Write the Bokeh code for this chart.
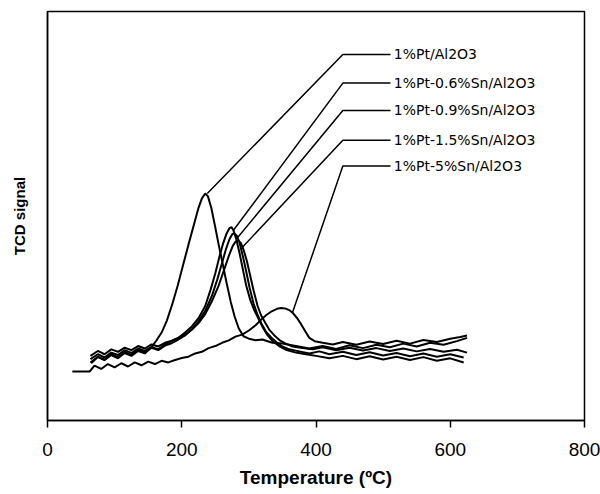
from bokeh.plotting import figure
from bokeh.models import Range1d, FixedTicker, ColumnDataSource
from bokeh.embed import file_html
from bokeh.resources import INLINE
from bokeh.core.properties import value

# ---------------- data ----------------
x_ticks = [0, 200, 400, 600, 800]

series_names = ["1%Pt/Al2O3", "1%Pt-0.6%Sn/Al2O3", "1%Pt-0.9%Sn/Al2O3",
                "1%Pt-1.5%Sn/Al2O3", "1%Pt-5%Sn/Al2O3"]

# 1%Pt/Al2O3
t_a = [65, 75, 85, 95, 105, 115, 125, 135, 145, 155, 162, 170, 178, 186, 194, 202,
       210, 218, 225, 230, 235, 239, 244, 249, 255, 261, 267, 273, 279, 285, 292, 300,
       310, 320, 335, 350, 370, 390, 410, 430, 450, 470, 490, 510, 530, 550, 570, 590,
       610, 625]
s_a = [14.0, 15.5, 14.8, 16.0, 15.2, 16.5, 15.8, 17.0, 16.4, 18.0, 19.5, 21.5, 24.5, 28.5,
       33.0, 38.0, 43.0, 47.8, 52.0, 54.3, 55.5, 54.8, 52.0, 48.0, 43.0, 38.3, 33.5, 29.0,
       25.3, 22.5, 20.6, 20.0, 19.6, 19.8, 19.0, 18.8, 18.2, 17.6, 18.2, 17.5, 18.4, 17.7,
       18.5, 17.9, 18.8, 18.1, 19.0, 18.5, 19.4, 20.2]

# 1%Pt-0.6%Sn/Al2O3
t_b = [64, 75, 85, 95, 105, 115, 125, 135, 145, 155, 165, 175, 185, 195, 205, 215, 225,
       235, 243, 250, 256, 262, 267, 271, 274, 277, 281, 286, 291, 296, 302, 308, 314,
       320, 328, 336, 345, 355, 370, 385, 400, 420, 440, 460, 480, 500, 520, 540, 560,
       580, 600, 620]
s_b = [15.0, 16.2, 15.4, 16.6, 16.0, 17.2, 16.5, 17.6, 17.0, 18.0, 17.4, 18.6, 19.4, 20.2,
       21.5, 23.0, 25.0, 28.0, 32.0, 36.0, 40.0, 43.5, 45.8, 47.0, 47.3, 46.5, 44.5, 41.0,
       37.0, 33.0, 29.5, 27.0, 25.0, 23.0, 20.8, 19.3, 18.2, 17.3, 16.6, 16.2, 15.8, 15.2,
       15.8, 15.0, 15.7, 14.9, 15.6, 14.8, 15.5, 14.6, 15.2, 14.2]

# 1%Pt-0.9%Sn/Al2O3
t_c = [64, 75, 85, 95, 105, 115, 125, 135, 145, 155, 165, 175, 185, 195, 205, 215, 225,
       235, 245, 253, 260, 266, 271, 275, 278, 282, 286, 291, 296, 301, 307, 313, 319,
       326, 334, 342, 350, 360, 375, 390, 405, 420, 440, 460, 480, 500, 520, 540, 560,
       580, 600, 620]
s_c = [14.2, 15.6, 14.8, 16.2, 15.5, 16.8, 16.0, 17.3, 16.6, 17.8, 17.2, 18.3, 18.9, 19.8,
       20.8, 22.3, 24.2, 26.8, 30.5, 34.5, 38.5, 42.0, 44.3, 45.5, 45.8, 45.2, 43.5, 40.2,
       36.5, 32.5, 28.6, 25.8, 23.6, 21.6, 20.2, 19.0, 18.1, 17.4, 16.9, 16.4, 16.9, 16.2,
       16.8, 16.0, 16.7, 15.9, 16.5, 15.7, 16.4, 15.6, 16.2, 15.4]

# 1%Pt-1.5%Sn/Al2O3
t_d = [64, 75, 85, 95, 105, 115, 125, 135, 145, 155, 165, 175, 185, 195, 205, 215, 225,
       235, 245, 255, 263, 270, 276, 280, 284, 288, 292, 297, 302, 307, 313, 318, 324,
       330, 338, 346, 355, 365, 380, 395, 410, 430, 450, 470, 490, 510, 530, 550, 570,
       590, 610, 625]
s_d = [15.8, 17.0, 16.2, 17.4, 16.8, 17.8, 17.2, 18.2, 17.6, 18.6, 18.1, 19.0, 19.5, 20.2,
       21.0, 22.2, 23.8, 26.0, 29.2, 33.0, 36.8, 40.2, 42.7, 43.7, 44.0, 43.4, 41.8, 39.0,
       35.4, 31.8, 28.0, 25.8, 24.0, 22.3, 20.8, 19.6, 18.8, 18.1, 17.7, 17.4, 17.9, 17.2,
       17.8, 17.1, 17.7, 17.0, 17.6, 16.9, 17.5, 16.8, 17.3, 16.6]

# 1%Pt-5%Sn/Al2O3
t_e = [37, 63, 70, 80, 90, 100, 110, 120, 130, 140, 150, 160, 170, 180, 190, 200, 210,
       220, 230, 240, 250, 260, 270, 280, 290, 300, 310, 318, 326, 334, 342, 348, 354,
       360, 366, 372, 378, 384, 390, 398, 410, 425, 440, 460, 480, 500, 520, 540, 560,
       580, 600, 615, 625]
s_e = [12.0, 12.0, 13.4, 12.6, 13.8, 13.0, 14.0, 13.2, 14.2, 13.5, 14.4, 13.8, 14.6, 14.2,
       14.8, 15.3, 15.6, 16.4, 16.8, 17.7, 18.2, 19.0, 19.6, 20.5, 21.0, 22.0, 23.3, 24.6,
       25.8, 26.7, 27.3, 27.5, 27.4, 27.0, 26.2, 25.0, 23.5, 21.8, 20.2, 19.4, 19.0, 18.6,
       19.2, 18.5, 19.3, 18.7, 19.5, 18.8, 19.7, 19.2, 20.0, 20.4, 20.8]

# leader-line targets on the curves (temperature, signal) and label rows (signal)
leader_end_t = [238, 277, 283, 290, 365]
leader_end_s = [55.5, 46.5, 44.7, 42.3, 26.4]
label_s = [89.5, 82.5, 75.8, 68.5, 62.2]

curves_t = [t_a, t_b, t_c, t_d, t_e]
curves_s = [s_a, s_b, s_c, s_d, s_e]

# ---------------- figure ----------------
p = figure(width=600, height=494, x_range=Range1d(0, 800), y_range=Range1d(0, 100),
           output_backend="svg", toolbar_location=None,
           min_border_left=47, min_border_right=16, min_border_top=11, min_border_bottom=74)
p.xgrid.visible = False
p.ygrid.visible = False
p.outline_line_color = "black"
p.outline_line_width = 1.5
p.background_fill_color = "white"
p.border_fill_color = "white"

xa = p.xaxis[0]
xa.ticker = FixedTicker(ticks=x_ticks)
xa.major_tick_out = 7
xa.major_tick_in = 0
xa.minor_tick_out = 0
xa.minor_tick_in = 0
xa.axis_line_color = "black"
xa.axis_line_width = 1.5
xa.major_tick_line_color = "black"
xa.major_tick_line_width = 1.5
xa.major_label_text_font = "Liberation Sans"
xa.major_label_text_font_size = "19px"
xa.major_label_text_color = "black"
xa.major_label_standoff = 15
xa.axis_label = "Temperature (ºC)"
xa.axis_label_text_font = "Liberation Sans"
xa.axis_label_text_font_style = "bold"
xa.axis_label_text_font_size = "19px"
xa.axis_label_text_color = "black"
xa.axis_label_standoff = 8

ya = p.yaxis[0]
ya.ticker = FixedTicker(ticks=[])
ya.axis_line_color = "black"
ya.axis_line_width = 1.5
ya.major_tick_out = 0
ya.major_tick_in = 0
ya.minor_tick_out = 0
ya.minor_tick_in = 0
ya.axis_label = "TCD signal"
ya.axis_label_text_font = "Liberation Sans"
ya.axis_label_text_font_style = "bold"
ya.axis_label_text_font_size = "15px"
ya.axis_label_text_color = "black"
ya.axis_label_standoff = 20

for tt, ss in zip(curves_t, curves_s):
    p.line(tt, ss, line_color="black", line_width=2)

# leader lines: from curve point to elbow, then horizontal to the label
elbow_t = 440
line_end_t = 511
text_t = 516
xs = [[et, elbow_t, line_end_t] for et in leader_end_t]
ys = [[es, ls, ls] for es, ls in zip(leader_end_s, label_s)]
p.multi_line(xs, ys, line_color="black", line_width=1.5)

src = ColumnDataSource(dict(x=[text_t] * len(series_names), y=label_s, text=series_names))
p.text(x="x", y="y", text="text", source=src, text_font=value("DejaVu Sans"),
       text_font_size=value("14px"), text_baseline="middle", text_align="left",
       text_color="black")

open("out.html", "w").write(file_html(p, INLINE))
